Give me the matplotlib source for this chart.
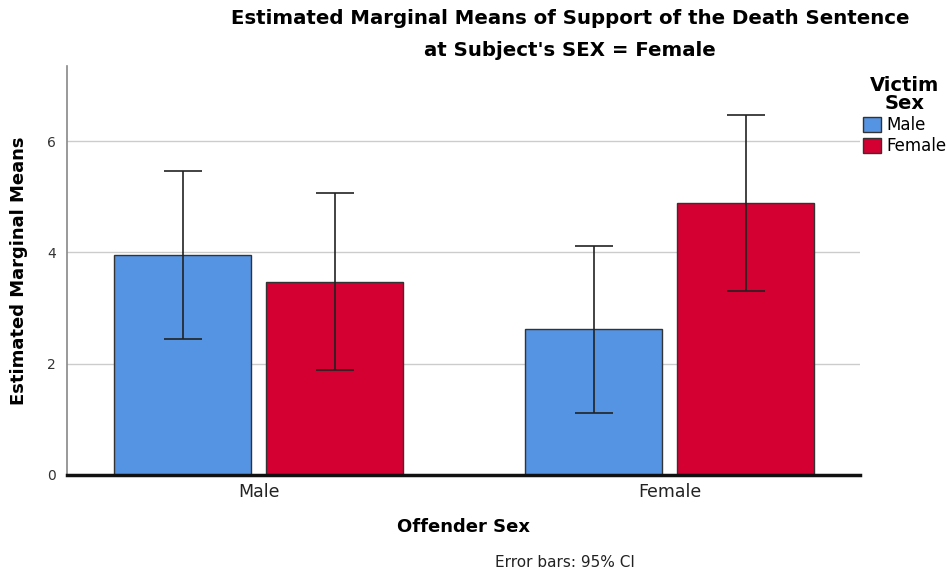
import matplotlib
matplotlib.use("Agg")
import matplotlib.pyplot as plt
import numpy as np

# estimated marginal means (subject sex = female)
offender_sex = ["Male", "Female"]
victim_sex = ["Male", "Female"]
means_male_victim = [3.95, 2.62]
means_female_victim = [3.47, 4.89]
ci_low_male_victim = [2.45, 1.11]
ci_high_male_victim = [5.46, 4.12]
ci_low_female_victim = [1.89, 3.31]
ci_high_female_victim = [5.06, 6.47]

colors = ["#5594E2", "#D50032"]

fig = plt.figure(figsize=(9.5, 5.75), dpi=100)
ax = fig.add_axes([0.0705, 0.174, 0.835, 0.712])

x = np.arange(len(offender_sex))
width = 0.333
offset = 0.185

series = [
    (means_male_victim, ci_low_male_victim, ci_high_male_victim),
    (means_female_victim, ci_low_female_victim, ci_high_female_victim),
]
for i, (m, lo, hi) in enumerate(series):
    pos = x + (-offset if i == 0 else offset)
    m = np.array(m)
    yerr = [m - np.array(lo), np.array(hi) - m]
    ax.bar(pos, m, width=width, color=colors[i], edgecolor="#333333",
           linewidth=1.0, label=victim_sex[i], zorder=2)
    ax.errorbar(pos, m, yerr=yerr, fmt="none", ecolor="#222222",
                elinewidth=1.2, capsize=14, capthick=1.2, zorder=3)

ax.set_xlim(-0.466, 1.463)
ax.set_ylim(0, 7.36)
ax.set_yticks([0, 2, 4, 6])
ax.yaxis.grid(True, color="#cccccc", linewidth=1.0, zorder=0)
ax.set_axisbelow(True)

ax.set_xticks(x)
ax.set_xticklabels(offender_sex, fontsize=12.5, color="#222222")
ax.tick_params(axis="x", length=0, pad=6)
ax.tick_params(axis="y", length=0, pad=8, labelsize=10, labelcolor="#333333")

for s in ["top", "right"]:
    ax.spines[s].set_visible(False)
ax.spines["left"].set_color("#888888")
ax.spines["left"].set_linewidth(1.2)
ax.spines["bottom"].set_color("#111111")
ax.spines["bottom"].set_linewidth(2.5)

ax.set_xlabel("Offender Sex", fontsize=13, fontweight="bold", labelpad=12)
ax.set_ylabel("Estimated Marginal Means", fontsize=13, fontweight="bold", labelpad=14)

fig.text(0.6, 0.968, "Estimated Marginal Means of Support of the Death Sentence",
         ha="center", va="center", fontsize=14.2, fontweight="bold")
fig.text(0.6, 0.913, "at Subject's SEX = Female",
         ha="center", va="center", fontsize=14.2, fontweight="bold")

leg = ax.legend(title="Victim\nSex", loc="upper left", bbox_to_anchor=(0.995, 0.99),
                frameon=False, fontsize=12, title_fontproperties={"weight": "bold", "size": 14},
                handlelength=1.1, handleheight=1.0, handletextpad=0.3, labelspacing=0.2,
                borderaxespad=0)
leg._legend_box.align = "center"
leg.get_title().set_linespacing(0.9)
leg.get_title().set_multialignment("center")

fig.text(0.595, 0.021, "Error bars: 95% CI", ha="center", va="center", fontsize=11,
         color="#222222")

fig.savefig("out.png", dpi=100)
